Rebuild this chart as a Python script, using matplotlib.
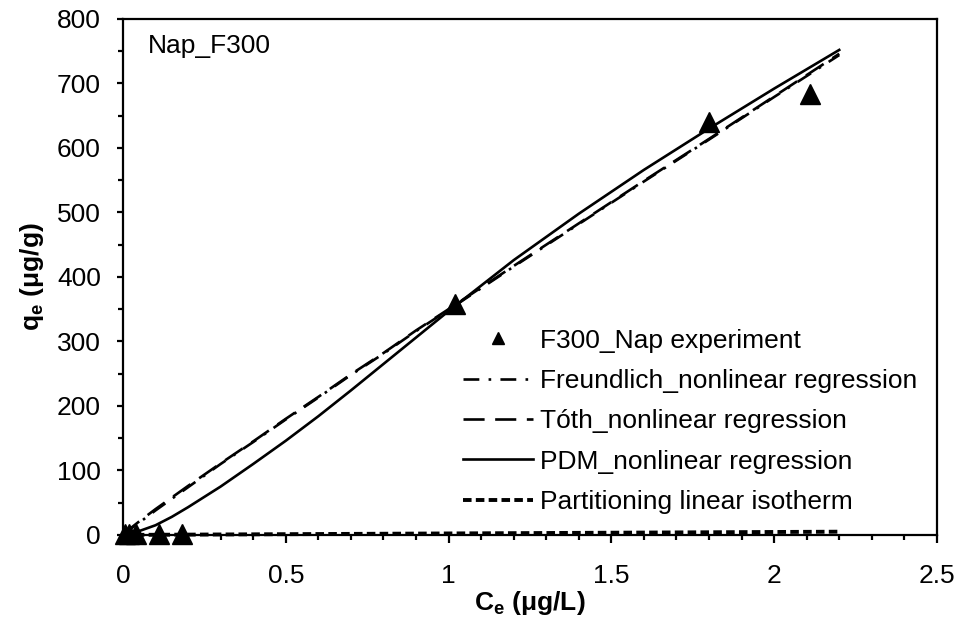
import matplotlib
matplotlib.use("Agg")
import matplotlib.pyplot as plt
from matplotlib.ticker import MultipleLocator

plt.rcParams['font.family'] = ['Liberation Sans', 'DejaVu Sans']
plt.rcParams['mathtext.fontset'] = 'custom'
plt.rcParams['mathtext.rm'] = 'Liberation Sans:bold'
plt.rcParams['mathtext.it'] = 'Liberation Sans:bold'
plt.rcParams['mathtext.bf'] = 'Liberation Sans:bold'

# Experimental equilibrium data
ce_exp = [0.005, 0.02, 0.04, 0.11, 0.18, 1.02, 1.80, 2.11]
qe_exp = [1, 2, 2, 1, 1, 358, 641, 684]

# Fitted model curves
ce_fit = [0, 0.025, 0.05, 0.1, 0.15, 0.2, 0.3, 0.4, 0.5, 0.6, 0.7, 0.8, 0.9,
          1.0, 1.2, 1.4, 1.6, 1.8, 2.0, 2.2]
q_freundlich = [0, 10, 19, 38, 56, 74, 110, 144, 179, 213, 248, 281, 316,
                349, 416, 482, 548, 613, 679, 744]
q_toth = [0, 11, 21, 40, 58, 76, 111, 145, 180, 214, 249, 282, 317,
          350, 417, 483, 549, 614, 680, 746]
q_pdm = [0, 2, 6, 15, 28, 43, 75, 110, 146, 184, 224, 265, 306,
         347, 426, 498, 566, 630, 692, 752]

# Linear partitioning isotherm
ce_part = [0, 2.2]
q_part = [0, 5]

x_ticks = [0, 0.5, 1, 1.5, 2, 2.5]
x_tick_labels = ["0", "0.5", "1", "1.5", "2", "2.5"]
y_ticks = [0, 100, 200, 300, 400, 500, 600, 700, 800]

FS = 19

fig = plt.figure(figsize=(9.57, 6.22), dpi=100)
ax = fig.add_axes([0.1285, 0.140, 0.8505, 0.8295])

ax.plot(ce_exp, qe_exp, linestyle='none', marker='^', color='black', ms=14,
        label='F300_Nap experiment', zorder=5, clip_on=False)
ax.plot(ce_fit, q_freundlich, color='black', lw=1.9, linestyle=(0, (6, 3.5, 1, 3.5)),
        label='Freundlich_nonlinear regression')
ax.plot(ce_fit, q_toth, color='black', lw=1.9, linestyle=(0, (8, 4)),
        label='T\u00f3th_nonlinear regression')
ax.plot(ce_fit, q_pdm, color='black', lw=1.9, linestyle='-',
        label='PDM_nonlinear regression')
ax.plot(ce_part, q_part, color='black', lw=2.8, linestyle=(0, (2.2, 1.1)),
        label='Partitioning linear isotherm', clip_on=False)

ax.set_xlim(0, 2.5)
ax.set_ylim(0, 800)
ax.set_xticks(x_ticks)
ax.set_xticklabels(x_tick_labels)
ax.set_yticks(y_ticks)
ax.xaxis.set_minor_locator(MultipleLocator(0.1))
ax.yaxis.set_minor_locator(MultipleLocator(50))

for s in ax.spines.values():
    s.set_linewidth(1.6)
ax.tick_params(axis='both', which='major', direction='out', width=1.6,
               labelsize=FS, colors='black')
ax.tick_params(axis='x', which='major', length=6, pad=15)
ax.tick_params(axis='y', which='major', length=4, pad=12)
ax.tick_params(axis='both', which='minor', direction='out', width=1.6, length=3.5)

ax.set_xlabel(r'C$_{e}$ ($\mu$g/L)', fontsize=FS, fontweight='bold', labelpad=1)
ax.set_ylabel(r'q$_{e}$ ($\mu$g/g)', fontsize=FS, fontweight='bold', labelpad=8)

ax.text(0.03, 0.948, 'Nap_F300', transform=ax.transAxes, fontsize=FS,
        ha='left', va='center')

ax.legend(loc='upper left', bbox_to_anchor=(0.418, 0.400), frameon=False,
          fontsize=FS, handlelength=2.65, handletextpad=0.27, labelspacing=0.62,
          borderpad=0, borderaxespad=0, markerscale=0.65)

fig.savefig('out.png', dpi=100)
